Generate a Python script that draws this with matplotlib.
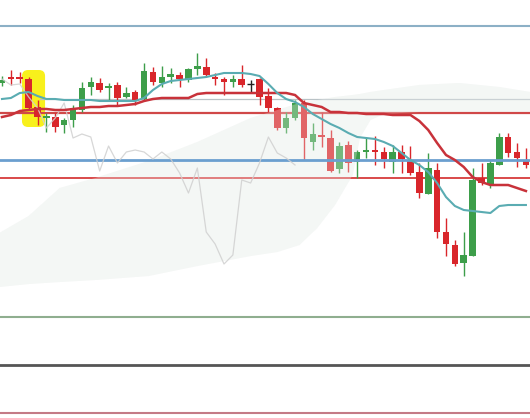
import matplotlib.pyplot as plt
import numpy as np
from matplotlib.patches import FancyBboxPatch, Rectangle

# OHLC (price points), oldest -> newest
opens = [335, 341, 341, 339, 311, 300, 301, 293, 298, 308, 331, 335, 330, 333, 321, 326,
         319, 346, 335, 341, 343, 338, 349, 351, 341, 339, 336, 339, 334, 339, 322, 310,
         290, 300, 315, 276, 283, 280, 249, 273, 256, 266, 268, 266, 256, 266, 257, 246,
         224, 248, 186, 173, 155, 162, 240, 233, 253, 281, 266, 258]
highs = [342, 348, 346, 341, 318, 305, 305, 300, 313, 336, 341, 340, 335, 336, 331, 328,
         355, 351, 352, 350, 346, 350, 365, 360, 345, 341, 343, 353, 338, 340, 330, 311,
         306, 318, 318, 295, 306, 288, 276, 277, 268, 281, 282, 271, 273, 273, 272, 255,
         265, 255, 200, 178, 186, 250, 255, 258, 285, 285, 275, 270]
lows = [332, 333, 335, 308, 293, 286, 286, 285, 291, 306, 323, 326, 318, 313, 320, 313,
        318, 333, 331, 335, 331, 336, 343, 341, 333, 323, 331, 331, 325, 313, 306, 288,
        285, 298, 258, 268, 271, 246, 245, 246, 240, 260, 253, 250, 245, 245, 243, 220,
        224, 180, 162, 152, 142, 162, 233, 230, 253, 261, 251, 250]
closes = [338, 339, 339, 310, 301, 302, 291, 298, 310, 330, 336, 328, 332, 320, 325, 318,
          347, 336, 341, 344, 339, 349, 352, 343, 339, 336, 339, 333, 334, 321, 310, 290,
          300, 315, 280, 284, 281, 247, 272, 255, 266, 268, 266, 259, 266, 259, 245, 225,
          250, 186, 174, 154, 163, 238, 235, 255, 281, 265, 260, 253]

# Ichimoku lines
tenkan = [319, 320, 325, 326, 322, 319, 319, 318, 318, 318, 318, 317, 317, 317, 317, 317,
          320, 328, 334, 337, 338, 339, 340, 341, 343, 345, 345, 345, 344, 342, 334, 325,
          319, 316, 311, 304, 299, 294, 290, 285, 281, 280, 279, 276, 272, 265, 258, 253,
          246, 235, 221, 212, 208, 207, 206, 205, 212, 213, 213, 213]
kijun = [301, 303, 307, 308, 309, 309, 308, 308, 309, 310, 311, 311, 312, 312, 313, 314,
         317, 319, 320, 320, 320, 320, 324, 325, 325, 325, 325, 325, 325, 325, 325, 325,
         325, 323, 315, 313, 311, 306, 306, 305, 305, 304, 304, 304, 303, 303, 303, 297,
         288, 275, 263, 258, 251, 241, 236, 233, 233, 233, 230, 227]
chikou_shift = 26

# cloud (senkou span A / B) sampled at bar positions
cloud_pos = [-0.3, 3, 6.5, 10.5, 16.5, 22, 28, 31, 33.5, 35.5, 37.5, 39.5, 40.3, 41.5,
             43, 47, 51.5, 56, 59.5]
span_top = [185, 202, 230, 240, 257, 276, 300, 308, 315, 318, 321, 323, 324, 326,
            328, 333, 335, 331, 326]
span_bot = [131, 134, 136, 138, 142, 152, 162, 166, 173, 190, 213, 243, 280, 298,
            304, 306, 306, 306, 306]

# horizontal levels: (price, colour, width, start fraction)
levels = [(392, '#8cb0c6', 1.5, 0.0),
          (319, '#b9c2c6', 0.9, 0.075),
          (305, '#d04848', 1.6, 0.0),
          (240, '#d94a4a', 1.4, 0.0),
          (101, '#8fae8f', 1.5, 0.0),
          (53, '#555555', 2.0, 0.0),
          (5, '#c47a86', 1.5, 0.0)]
blue_level = 258

green = '#3d9e4a'
red = '#d9262b'
cloud_col = '#f4f7f5'

fig = plt.figure(figsize=(5.30, 4.18), dpi=100)
ax = fig.add_axes([0, 0, 1, 1])
ax.set_xlim(-0.225, 59.46)
ax.set_ylim(0, 418)
ax.axis('off')

n = len(closes)
x = np.arange(n)

# cloud under everything
ax.fill_between(cloud_pos, span_bot, span_top, color=cloud_col, lw=0, zorder=0)

# highlight box
hl = FancyBboxPatch((2.25, 291), 2.6, 57, boxstyle='round,pad=0,rounding_size=0.7',
                    mutation_aspect=8.6, fc='#f8f01c', ec='none', zorder=1)
ax.add_patch(hl)

for price, col, lw, x0 in levels:
    ax.axhline(price, xmin=x0, color=col, lw=lw, zorder=2)

# candles
w = 0.74
for i in range(n):
    o, h, l, c = opens[i], highs[i], lows[i], closes[i]
    if c > o:
        col = green
    elif c < o:
        col = red
    else:
        col = '#222222'
    ax.vlines(i, l, h, color=col, lw=1.0, zorder=2.5)
    if c == o:
        ax.hlines(c, i - w / 2, i + w / 2, color=col, lw=1.0, zorder=2.5)
    else:
        ax.add_patch(Rectangle((i - w / 2, min(o, c)), w, abs(c - o),
                               fc=col, ec='none', zorder=2.6))

# pale cloud over the candles
ax.fill_between(cloud_pos, span_bot, span_top, color=cloud_col, alpha=0.3, lw=0, zorder=3)

ax.axhline(blue_level, color='#6b9fcf', lw=2, zorder=4)

# chikou span: closes shifted back
ax.plot(x[:n - chikou_shift], closes[chikou_shift:], color='#d0d0d0', lw=0.9,
        alpha=0.85, zorder=4)
ax.plot(x, kijun, color='#c8323a', lw=1.8, zorder=5)
ax.plot(x, tenkan, color='#5aacb2', lw=1.5, zorder=5)

fig.savefig('out.png', dpi=100)
